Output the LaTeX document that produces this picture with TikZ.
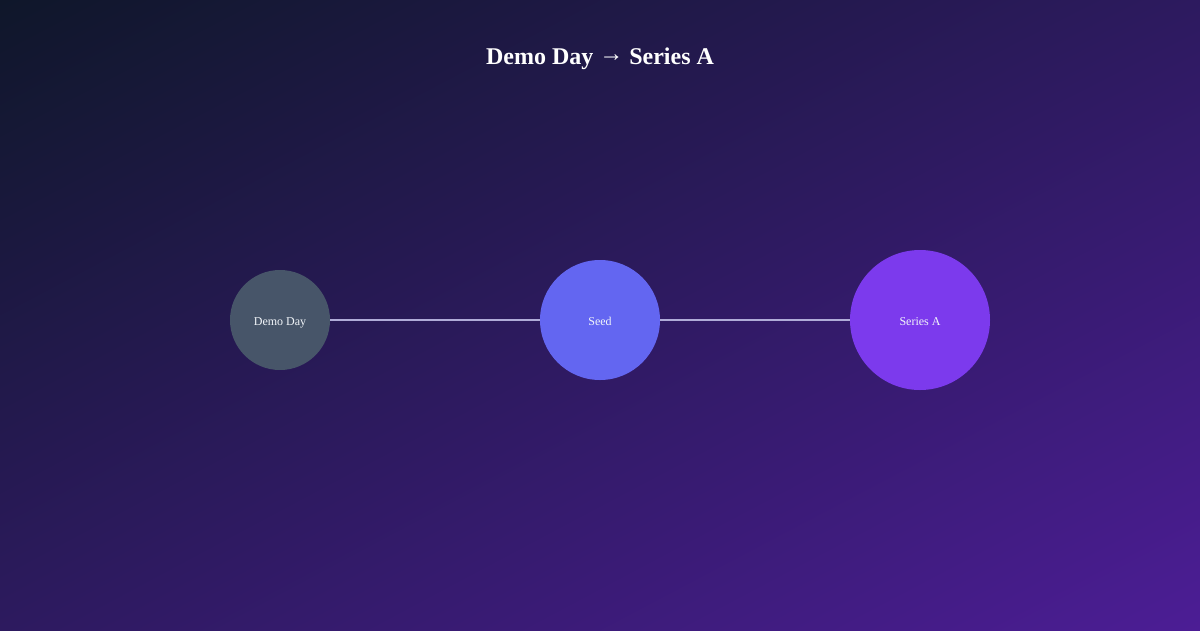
\documentclass[tikz,border=0pt]{standalone}
\usepackage{fontspec}
\setmainfont{Liberation Serif}
\usetikzlibrary{shadings}
\definecolor{bgtl}{HTML}{0F172A}
\definecolor{bgmid}{HTML}{2D1A5F}
\definecolor{bgbr}{HTML}{4C1D95}
\definecolor{slatec}{HTML}{475569}
\definecolor{indigoc}{HTML}{6366F1}
\definecolor{violetc}{HTML}{7C3AED}
\definecolor{linkc}{HTML}{B0ACD8}
\definecolor{labelc}{HTML}{F1F5F9}
\begin{document}
\begin{tikzpicture}[x=1pt,y=-1pt,
  stage/.style={circle,inner sep=0pt,minimum size=#1,text height=12pt,text depth=2pt,text=labelc,font=\fontsize{12}{14}\selectfont},
  link/.style={draw=linkc,line width=2pt}]
\shade[upper left=bgtl,upper right=bgmid,lower left=bgmid,lower right=bgbr] (0,0) rectangle (1200,630);
\useasboundingbox (0,0) rectangle (1200,630);
\node[text=white,font=\bfseries\fontsize{24}{28}\selectfont] (title) at (600,59) {Demo Day \raisebox{3pt}{→} Series A};
\node[stage=100pt,fill=slatec] (demo) at (280,320) {Demo Day};
\node[stage=120pt,fill=indigoc] (seed) at (600,320) {Seed};
\node[stage=140pt,fill=violetc] (seriesa) at (920,320) {Series A};
\draw[link] (demo) -- (seed);
\draw[link] (seed) -- (seriesa);
\end{tikzpicture}
\end{document}
